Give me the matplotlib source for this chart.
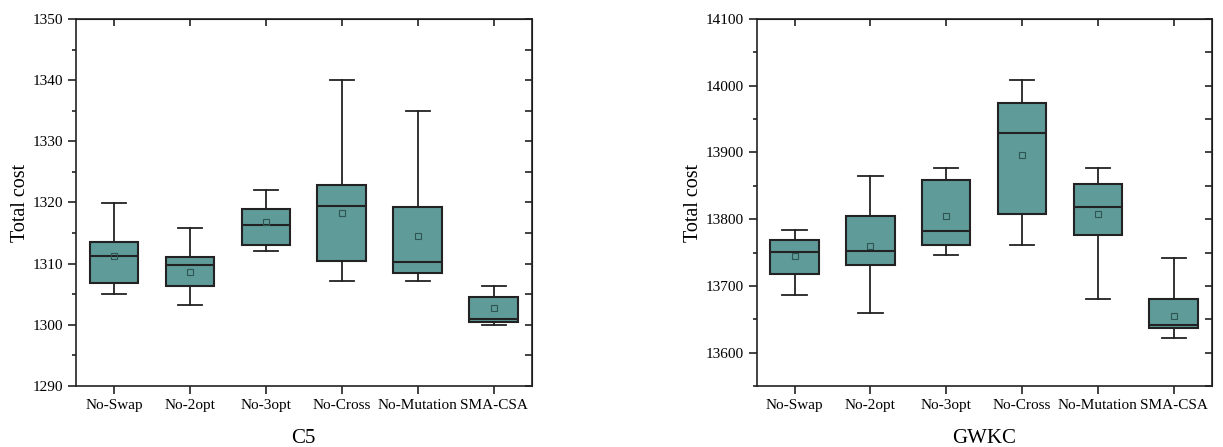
import numpy as np
import matplotlib.pyplot as plt
from matplotlib.ticker import MultipleLocator

labels = ['No-Swap', 'No-2opt', 'No-3opt', 'No-Cross', 'No-Mutation', 'SMA-CSA']

# C5 instance
c5_low = [1305.0, 1303.2, 1312.1, 1307.2, 1307.2, 1300.0]
c5_q1 = [1306.9, 1306.3, 1313.1, 1310.5, 1308.4, 1300.5]
c5_med = [1311.3, 1309.7, 1316.3, 1319.4, 1310.3, 1301.0]
c5_mean = [1311.3, 1308.7, 1316.8, 1318.3, 1314.6, 1302.7]
c5_q3 = [1313.6, 1311.1, 1319.0, 1322.9, 1319.3, 1304.6]
c5_high = [1319.9, 1315.8, 1322.1, 1340.0, 1334.9, 1306.3]

# GWKC instance
gw_low = [13686.5, 13659.5, 13747, 13761.5, 13680.5, 13622.5]
gw_q1 = [13718, 13732, 13762, 13807.5, 13777, 13637.5]
gw_med = [13750.5, 13752.5, 13782.5, 13928.5, 13818, 13642]
gw_mean = [13744.5, 13760.5, 13805.5, 13895.5, 13808.5, 13655]
gw_q3 = [13769, 13804.5, 13858, 13974, 13853, 13681]
gw_high = [13783.5, 13864.5, 13877, 14008, 13877, 13742]

plt.rcParams['font.family'] = ['Liberation Serif', 'DejaVu Serif']

box_color = '#5f9b99'
edge = '#222222'


def make_stats(low, q1, med, mean, q3, high):
    st = []
    for i in range(len(labels)):
        st.append(dict(whislo=low[i], q1=q1[i], med=med[i], mean=mean[i],
                       q3=q3[i], whishi=high[i], fliers=[], label=labels[i]))
    return st


def draw(ax, stats, ylim, major, minor, xlab):
    ax.bxp(stats, positions=np.arange(1, 7), widths=0.64, patch_artist=True,
           showmeans=True, showfliers=False,
           boxprops=dict(facecolor=box_color, edgecolor=edge, linewidth=1.5),
           medianprops=dict(color=edge, linewidth=1.5),
           whiskerprops=dict(color=edge, linewidth=1.3),
           capprops=dict(color=edge, linewidth=1.3),
           meanprops=dict(marker='s', markersize=4, markerfacecolor='none',
                          markeredgecolor='#2f5553', markeredgewidth=0.8))
    ax.set_xlim(0.5, 6.5)
    ax.set_ylim(*ylim)
    ax.yaxis.set_major_locator(MultipleLocator(major))
    ax.yaxis.set_minor_locator(MultipleLocator(minor))
    ax.tick_params(axis='both', which='major', direction='out', length=6,
                   width=1.2, labelsize=11, color=edge)
    ax.tick_params(axis='y', which='minor', direction='out', length=3, width=1.2, color=edge)
    ax.tick_params(axis='x', which='minor', bottom=False)
    for s in ax.spines.values():
        s.set_linewidth(1.2)
        s.set_color(edge)
    ax.set_ylabel('Total cost', fontsize=14.5, labelpad=1.5)
    ax.set_xlabel(xlab, fontsize=15, labelpad=12)
    # mirrored inward ticks on top and right
    top = ax.secondary_xaxis('top')
    top.set_xticks(np.arange(1, 7))
    top.tick_params(direction='in', length=5, width=1.2, labeltop=False, color=edge)
    right = ax.secondary_yaxis('right')
    right.yaxis.set_major_locator(MultipleLocator(major))
    right.yaxis.set_minor_locator(MultipleLocator(minor))
    right.tick_params(which='both', direction='in', length=5, width=1.2,
                      labelright=False, color=edge)


fig = plt.figure(figsize=(12.23, 4.47), dpi=100)
ax1 = fig.add_axes([0.0621, 0.1365, 0.3726, 0.821])
ax2 = fig.add_axes([0.6187, 0.1365, 0.3720, 0.821])

draw(ax1, make_stats(c5_low, c5_q1, c5_med, c5_mean, c5_q3, c5_high),
     (1290, 1350), 10, 5, 'C5')
draw(ax2, make_stats(gw_low, gw_q1, gw_med, gw_mean, gw_q3, gw_high),
     (13550, 14100), 100, 50, 'GWKC')

fig.savefig('out.png', dpi=100)
